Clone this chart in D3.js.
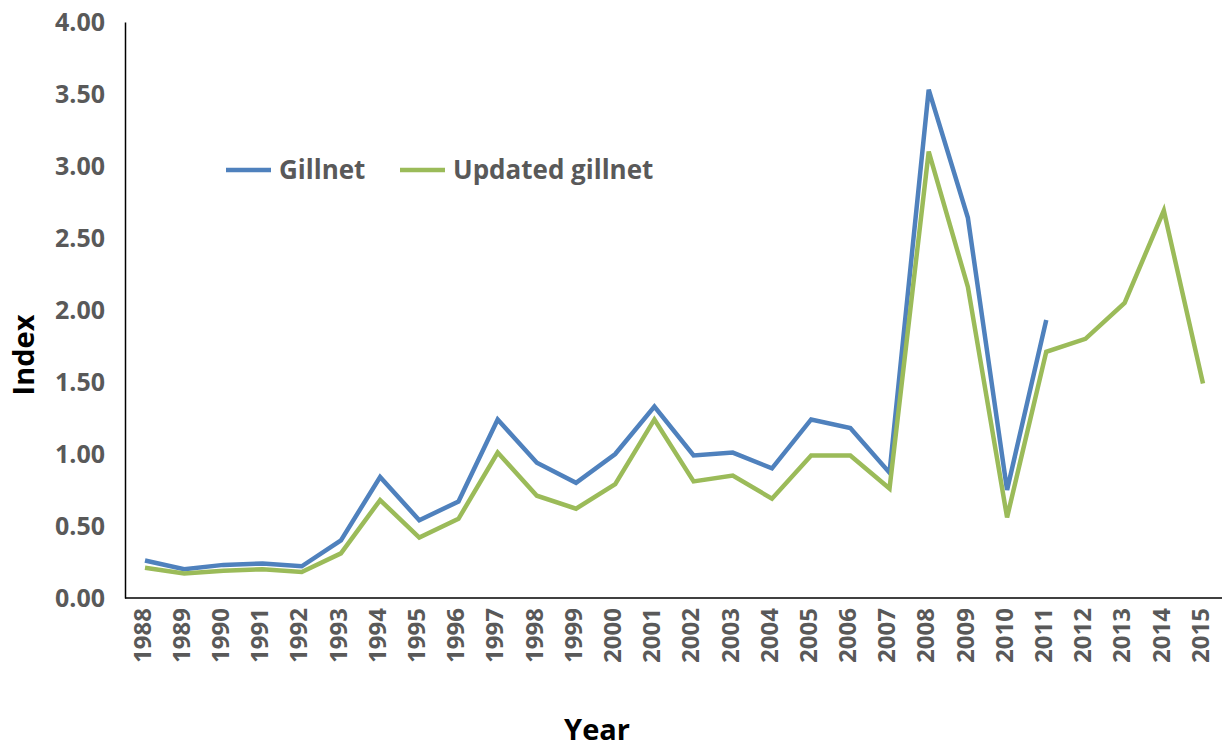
<!DOCTYPE html>
<html><head><meta charset="utf-8">
<script src="https://cdn.jsdelivr.net/npm/d3@7"></script>
<style>body{margin:0;background:#fff}svg{font-family:"Open Sans",sans-serif;font-weight:bold}</style>
</head><body><svg id="c" width="1222" height="748"></svg>
<script>
const years = d3.range(1988, 2016);
const gillnet = [0.26,0.20,0.23,0.24,0.22,0.40,0.84,0.54,0.67,1.24,0.94,0.80,1.00,1.33,0.99,1.01,0.90,1.24,1.18,0.87,3.53,2.64,0.75,1.93];
const updated = [0.21,0.17,0.19,0.20,0.18,0.31,0.68,0.42,0.55,1.01,0.71,0.62,0.79,1.24,0.81,0.85,0.69,0.99,0.99,0.76,3.10,2.16,0.56,1.71,1.80,2.05,2.69,1.49];
const yTicks = [0,0.5,1,1.5,2,2.5,3,3.5,4];
const svg = d3.select("#c");
const x = d3.scalePoint().domain(years).range([145,1203]);
const y = d3.scaleLinear().domain([0,4]).range([598,22]);
const gray="#595959";
const ya = svg.append("g").attr("transform","translate(125,0)").call(d3.axisLeft(y).tickValues(yTicks).tickFormat(d3.format(".2f")).tickSize(0).tickPadding(20));
ya.select(".domain").attr("stroke","#000").attr("stroke-width",1.5);
ya.selectAll("text").attr("font-size",25).attr("fill",gray).attr("font-family","Open Sans").attr("font-weight","bold");
const xa = svg.append("g").attr("transform","translate(0,598)").call(d3.axisBottom(x).tickSize(0).tickPadding(10));
xa.select(".domain").attr("d","M125,0H1222").attr("stroke","#000").attr("stroke-width",1.5);
xa.selectAll("text").attr("font-size",24).attr("fill",gray).attr("font-family","Open Sans").attr("font-weight","bold")
  .attr("transform","rotate(-90)").attr("text-anchor","end").attr("dx","-10").attr("dy","-0.05em").attr("y",0).attr("x",0).style("dominant-baseline","middle");
const line = d3.line().x((d,i)=>x(years[i])).y(d=>y(d));
svg.append("path").datum(gillnet).attr("d",line).attr("fill","none").attr("stroke","#4f81bd").attr("stroke-width",4.5);
svg.append("path").datum(updated).attr("d",line).attr("fill","none").attr("stroke","#9bbb59").attr("stroke-width",4.5);
svg.append("text").attr("x",597).attr("y",740).attr("text-anchor","middle").attr("font-size",29).text("Year");
svg.append("text").attr("transform","translate(34,355) rotate(-90)").attr("text-anchor","middle").attr("font-size",29).text("Index");
const leg=[["Gillnet","#4f81bd",226],["Updated gillnet","#9bbb59",400]];
leg.forEach(([t,c,lx])=>{
  svg.append("line").attr("x1",lx).attr("x2",lx+45).attr("y1",170).attr("y2",170).attr("stroke",c).attr("stroke-width",4.5);
  svg.append("text").attr("x",lx+53).attr("y",179).attr("font-size",26).attr("fill",gray).text(t);
});
</script></body></html>
